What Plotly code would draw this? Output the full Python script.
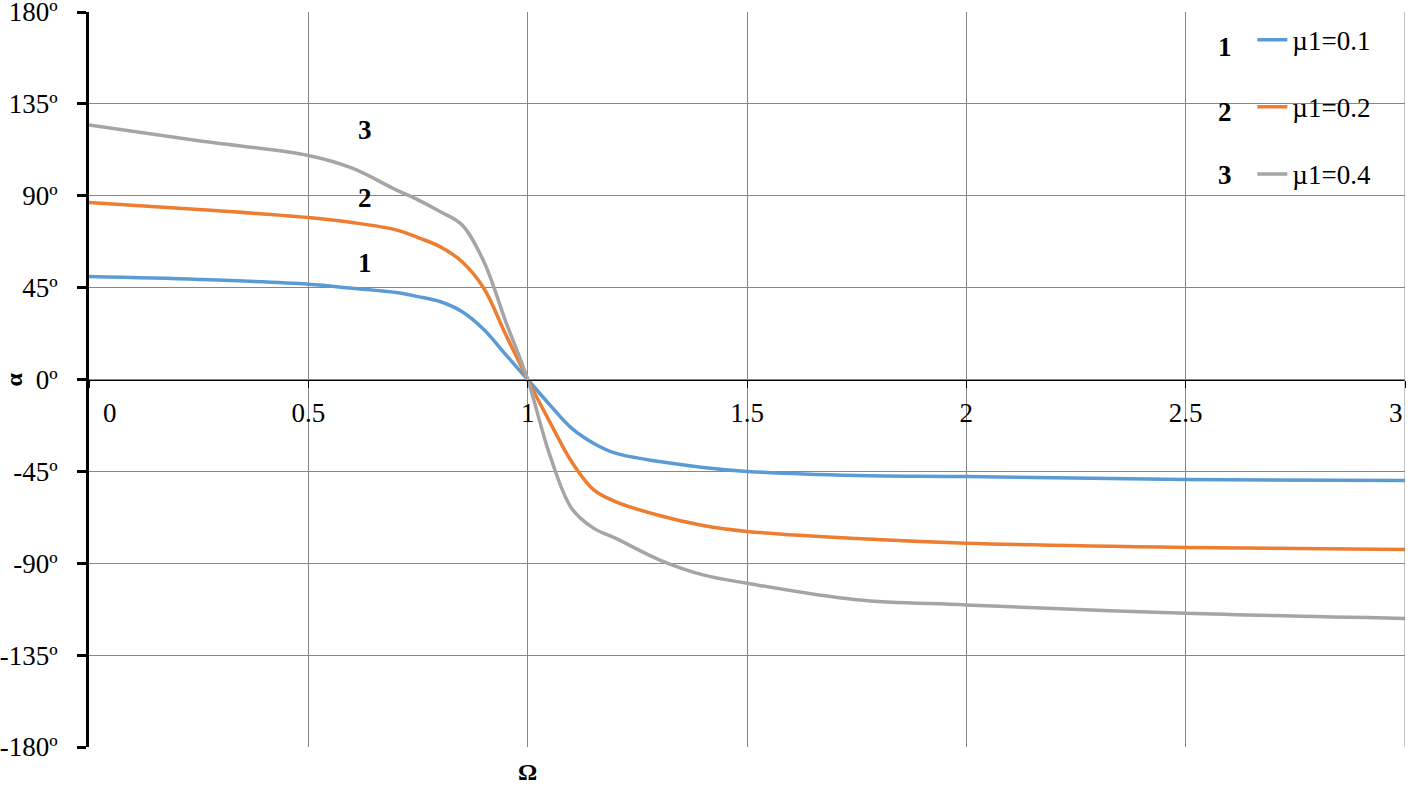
import plotly.graph_objects as go

# Omega values (x) and phase angle alpha in degrees for each mu1
omega = [0, 0.25, 0.5, 0.6, 0.7, 0.75, 0.8, 0.85, 0.9, 0.95, 1.0,
         1.05, 1.1, 1.15, 1.2, 1.3, 1.4, 1.5, 1.75, 2.0, 2.5, 3.0]
alpha_01 = [50.4, 49, 46.7, 44.7, 42.6, 40.6, 38.2, 33.3, 24.5, 12.2, 0,
            -12.3, -23.8, -31.2, -36.1, -40.2, -43.1, -45, -47, -47.5, -49, -49.5]
alpha_02 = [86.7, 83.3, 79.3, 76.9, 73.3, 69.5, 65.1, 57.8, 44.7, 22, 0,
            -20.6, -40.2, -53.9, -59.8, -66.6, -71.5, -74.4, -77.9, -80.2, -82.3, -83.3]
alpha_04 = [124.7, 116.9, 109.7, 103.5, 92.9, 88, 82.3, 75.8, 57.8, 28.4, 0,
            -36.7, -63, -72.8, -77.7, -88.3, -95.7, -99.8, -107.9, -110.4, -114.5, -117]

series_names = ['µ1=0.1', 'µ1=0.2', 'µ1=0.4']
series_colors = ['#5B9BD5', '#ED7D31', '#A5A5A5']
curve_numbers = ['1', '2', '3']

x_ticks = [0, 0.5, 1, 1.5, 2, 2.5, 3]
x_ticktext = ['0', '0.5', '1', '1.5', '2', '2.5', '3']
y_ticks = [180, 135, 90, 45, 0, -45, -90, -135, -180]
y_ticktext = [f'{v}º' for v in y_ticks]

FONT = 'Liberation Serif, Times New Roman, serif'
FS = 27
GRID = '#868686'

fig = go.Figure()
for i, (name, ys) in enumerate(zip(series_names, [alpha_01, alpha_02, alpha_04])):
    fig.add_trace(go.Scatter(x=omega, y=ys, name=name, mode='lines',
                             line=dict(color=series_colors[i], width=3.5, shape='spline', smoothing=1.0),
                             legendgroup=name))

# bold curve numbers next to curves and legend entries
curve_label_y = [57, 89, 122]
legend_label_y = [163, 131, 100]
for num, cy, ly in zip(curve_numbers, curve_label_y, legend_label_y):
    fig.add_annotation(x=0.63, y=cy, text=f'<b>{num}</b>', showarrow=False,
                       font=dict(family=FONT, size=FS, color='black'))
    fig.add_annotation(x=2.59, y=ly, text=f'<b>{num}</b>', showarrow=False,
                       font=dict(family=FONT, size=FS, color='black'))

# end labels of the x axis are pushed inwards, as in the original
fig.add_annotation(x=x_ticks[0], y=0, text=x_ticktext[0], showarrow=False, xshift=21, yshift=-33,
                   font=dict(family=FONT, size=FS, color='black'))
fig.add_annotation(x=x_ticks[-1], y=0, text=x_ticktext[-1], showarrow=False, xshift=-9, yshift=-33,
                   font=dict(family=FONT, size=FS, color='black'))
# right border grid line
fig.add_shape(type='line', x0=x_ticks[-1], x1=x_ticks[-1], y0=0, y1=1, yref='paper',
              line=dict(color=GRID, width=1))
# axis titles
fig.add_annotation(x=-0.057, y=0.5, xref='paper', yref='paper', xanchor='center', yanchor='middle',
                   text='<b>α</b>', showarrow=False, textangle=-90,
                   font=dict(family=FONT, size=24, color='black'))
fig.add_annotation(x=1, y=-0.034, yref='paper', xanchor='center', yanchor='middle',
                   text='<b>Ω</b>', showarrow=False,
                   font=dict(family=FONT, size=24, color='black'))

fig.update_layout(
    width=1408, height=788,
    margin=dict(l=89, r=3, t=12, b=41),
    plot_bgcolor='white', paper_bgcolor='white',
    font=dict(family=FONT, size=FS, color='black'),
    showlegend=True,
    legend=dict(x=0.884, y=0.995, xanchor='left', yanchor='top', bgcolor='rgba(0,0,0,0)',
                traceorder='grouped', tracegroupgap=29, font=dict(family=FONT, size=FS)),
    xaxis=dict(range=[0, 3], tickvals=x_ticks, ticktext=[''] + x_ticktext[1:-1] + [''],
               showgrid=True, gridcolor=GRID, gridwidth=1, automargin=False,
               showline=True, linecolor='black', linewidth=1,
               anchor='free', position=0.5, ticks='outside', ticklen=7, tickcolor='black',
               ticklabelstandoff=2, zeroline=False),
    xaxis2=dict(range=[0, 3], overlaying='x', anchor='free', position=0.5, tickvals=x_ticks,
                showticklabels=False, ticks='inside', ticklen=7, tickcolor='black',
                showgrid=False, zeroline=False, showline=False, automargin=False),
    yaxis=dict(range=[-180, 180], tickvals=y_ticks, ticktext=y_ticktext, automargin=False,
               showgrid=True, gridcolor=GRID, gridwidth=1, zeroline=False,
               showline=True, linecolor='black', linewidth=3, ticklabeloverflow='allow',
               ticks='outside', ticklen=9, tickwidth=3, tickcolor='black', ticklabelstandoff=14),
    yaxis2=dict(range=[-180, 180], overlaying='y', tickvals=y_ticks, showticklabels=False,
                ticks='inside', ticklen=8, tickwidth=3, tickcolor='black', automargin=False,
                showgrid=False, zeroline=False, showline=False),
)

# the page body has an 8px default margin; remove it so the figure fills the window
fig.write_html('out.html', config={'displayModeBar': False},
               post_script="document.body.style.margin='0';")
